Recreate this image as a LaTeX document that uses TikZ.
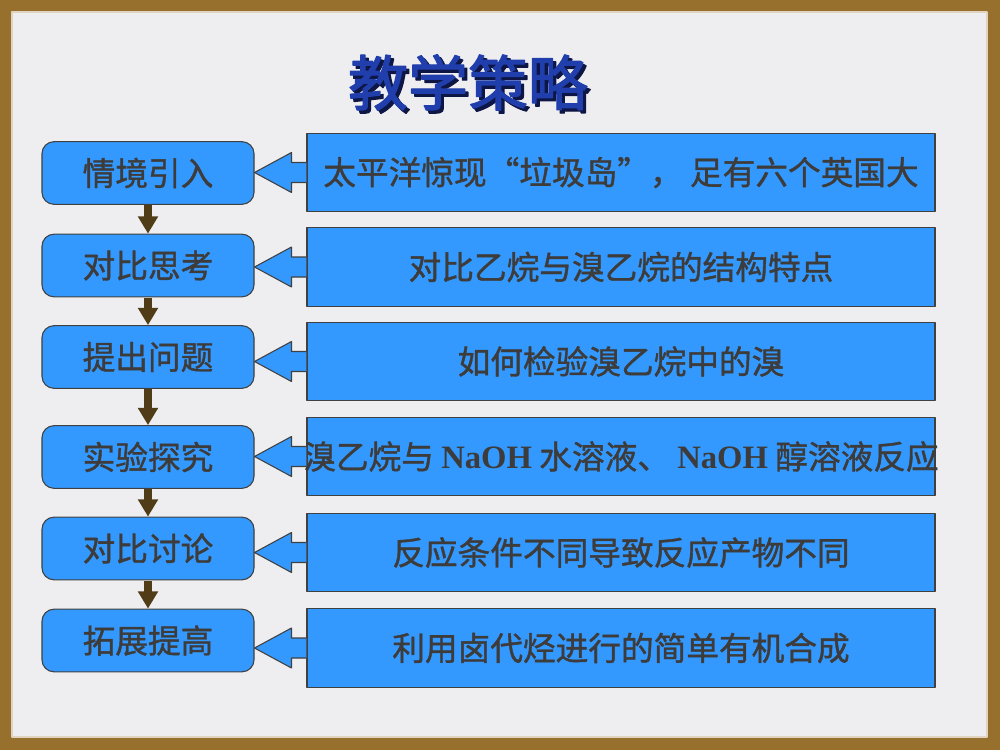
\documentclass[tikz,border=0pt]{standalone}
\usepackage{fontspec}
\setmainfont{Liberation Serif}
\newfontfamily\cjk[FakeBold=1.2]{Noto Sans CJK SC}
\newfontfamily\cjktitle[FakeBold=2]{Noto Sans CJK SC}
\usetikzlibrary{arrows.meta}
\definecolor{frame}{RGB}{152,112,46}
\definecolor{paper}{RGB}{238,238,240}
\definecolor{boxblue}{RGB}{51,153,255}
\definecolor{boxline}{RGB}{64,64,64}
\definecolor{stepbrown}{RGB}{80,60,22}
\definecolor{txtgray}{RGB}{62,60,58}
\definecolor{titleblue}{RGB}{32,62,172}
\definecolor{titleshade}{RGB}{14,22,70}
\newcommand\shadowtext[1]{\makebox[0pt][l]{\hspace{2.4pt}\raisebox{-2.4pt}{\color{titleshade}#1}}#1}
\begin{document}
\begin{tikzpicture}[x=0.75pt, y=-0.75pt, line join=round, font=\cjk\fontsize{24.5pt}{28pt}\selectfont, text=txtgray]
		\tikzset{stage/.style={draw=boxline, fill=boxblue, line width=0.8pt, rounded corners=9pt, minimum width=159pt, minimum height=47pt, inner sep=0pt},
		task/.style={draw=boxline, fill=boxblue, line width=0.8pt, minimum width=471pt, minimum height=59pt, inner sep=0pt},
		down/.style={stepbrown, line width=6pt, -{Triangle[width=14.5pt, length=13pt]}, shorten <=0.4pt},
		callout/.style={draw=boxline, fill=boxblue, line width=0.8pt}}
		\useasboundingbox (0,0) rectangle (1000,750);
		\fill[frame] (0,0) rectangle (1000,750);
		\fill[paper] (12,12) rectangle (987,737);
		\draw[white!70!frame, line width=0.8pt] (12,12) rectangle (987,737);
		% title
		\node (title) [text=titleblue, font=\cjktitle\fontsize{45pt}{50pt}\selectfont] at (468,84) {\shadowtext{教学策略}};
		% left column
		\node (l1) [stage] at (148,173) {情境引入};
		\node (l2) [stage] at (148,265.5) {对比思考};
		\node (l3) [stage] at (148,357) {提出问题};
		\node (l4) [stage] at (148,457) {实验探究};
		\node (l5) [stage] at (148,548.5) {对比讨论};
		\node (l6) [stage] at (148,640.5) {拓展提高};
		\draw[down] (l1.south) -- (l2.north);
		\draw[down] (l2.south) -- (l3.north);
		\draw[down] (l3.south) -- (l4.north);
		\draw[down] (l4.south) -- (l5.north);
		\draw[down] (l5.south) -- (l6.north);
		% right column
		\node (r1) [task] at (621,172.5) {太平洋惊现“垃圾岛”， 足有六个英国大};
		\node (r2) [task] at (621,267) {对比乙烷与溴乙烷的结构特点};
		\node (r3) [task] at (621,361.5) {如何检验溴乙烷中的溴};
		\node (r4) [task] at (621,456.5) {\makebox[0pt]{溴乙烷与 {\rmfamily\bfseries NaOH} 水溶液、 {\rmfamily\bfseries NaOH} 醇溶液反应}};
		\node (r5) [task] at (621,552.5) {反应条件不同导致反应产物不同};
		\node (r6) [task] at (621,648) {利用卤代烃进行的简单有机合成};
		\foreach \i in {1,...,6}
		\draw[callout] ([yshift=7.5pt]r\i.west) -- ++(-11.25pt,0pt) -- ++(0pt,7.5pt) -- (l\i.east |- r\i.west)
		-- ([xshift=-11.25pt,yshift=-15pt]r\i.west) -- ++(0pt,7.5pt) -- ([yshift=-7.5pt]r\i.west);
	\end{tikzpicture}
\end{document}
